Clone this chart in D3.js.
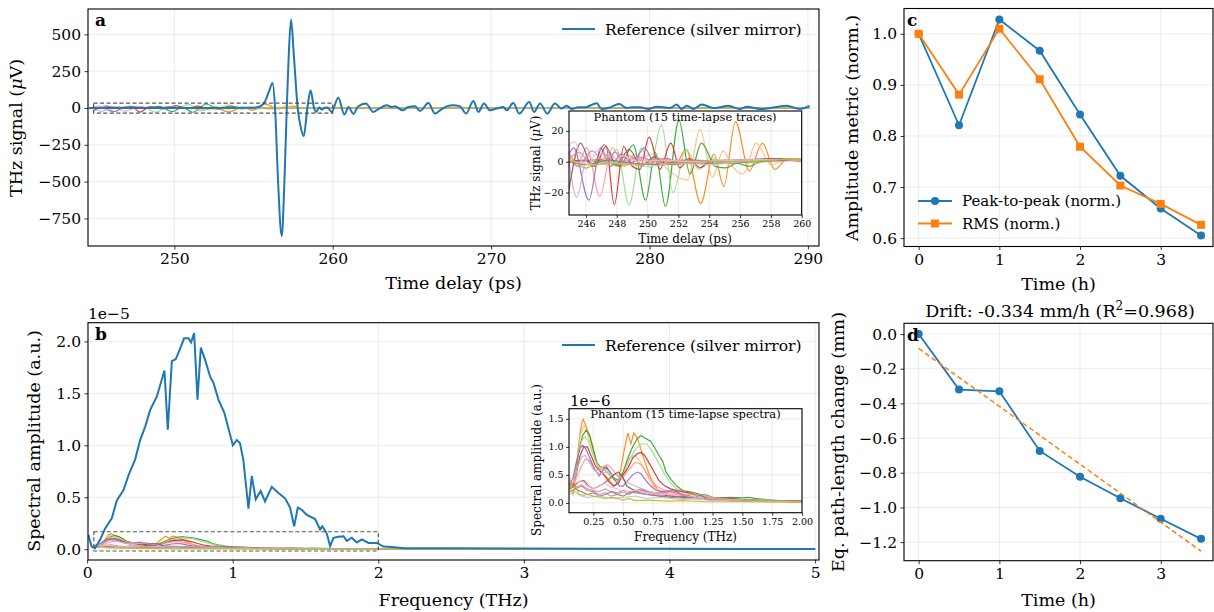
<!DOCTYPE html>
<html><head><meta charset="utf-8">
<script src="https://cdn.jsdelivr.net/npm/d3@7"></script>
<style>body{margin:0;background:#fff} text{font-family:"DejaVu Serif",serif;fill:#000}</style>
</head><body><svg id="c" width="1214" height="612"></svg>
<script>
// ---------------- DATA ----------------
// Panel a: reference time trace (ps, µV)
const refTime = [244.6,246,248,250,252,254,255,255.4,255.75,256.0,256.2,256.36,256.55,256.78,256.95,257.1,257.22,257.37,257.55,257.79,258.0,258.17,258.4,258.6,258.82,258.95,259.16,259.3,259.5,259.67,259.93,260.35,260.74,261.0,261.3,261.6,262.1,262.56,262.94,263.41,263.72,263.93,264.42,264.77,265.2,265.51,266.04,266.46,266.77,267.2,267.61,268.04,268.42,268.88,269.2,269.55,269.93,270.35,270.77,270.98,271.4,271.78,272.41,272.71,273.09,273.55,274.03,274.46,274.77,275.09,275.51,275.93,276.67,276.98,277.4,278.09,278.56,278.88,279.4,279.93,280.45,281.3,281.72,282.03,282.35,282.77,283.3,284.03,284.45,284.97,285.71,286.14,286.98,287.92,288.66,289.5,290.1];
const refSignal = [0,0,0,0,0,1,2,10,50,120,170,0,-500,-870,-500,0,350,600,350,0,-140,-190,0,120,0,-27,5,-11,2,3,-27,70,-45,7,-40,10,30,-27,-4,18,7,11,-16,7,11,-20,34,-38,-16,11,18,11,-38,48,-27,30,-16,-4,7,-16,34,-38,41,-27,30,-38,30,-4,16,-7,5,5,32,-7,0,27,0,5,5,-7,9,0,23,-7,16,-7,23,0,5,16,-7,9,-7,5,16,-7,14];

// Phantom time traces (15), [ps, µV]
const trOrange = [[244.9,0],[246.5,1],[247.5,2],[248.3,-3],[249,2],[250,0],[251,2],[251.8,-2],[252.5,8],[253.45,-27],[254.3,5],[254.95,-16],[255.7,26],[256.6,-6],[257.45,12],[258.25,-5],[259,1],[260,0],[270,0.5],[290.1,0]];
const trLightOrange = [[244.9,1],[248,0],[249.5,2],[250.4,5],[251.2,-4],[252.6,-12],[253.4,21],[254.2,-10],[254.9,7],[255.5,-3],[256.2,-8],[257.05,12],[258,-2],[259,1],[260,1],[270,0.5],[290.1,0]];
const trGreen = [[244.9,0],[247,1],[248.2,-3],[249.07,11],[249.87,-25],[250.5,6],[251.16,-29],[252.03,27],[252.75,-8],[253.5,12],[254.4,-3],[255.1,-4],[255.8,-1],[256.6,-3],[257.3,0],[258.5,1],[260,1.5],[270,0.5],[290.1,0]];
const trLightGreen = [[244.9,0],[246.5,1],[247.3,-2],[248.0,8],[248.8,-28],[249.6,9],[250.15,-4],[250.9,24],[251.65,-20],[252.5,8],[253.3,-5],[254.1,3],[255,-1],[256,1],[257,-1],[258.5,2],[260,1.5],[270,0.5],[290.1,0]];
const trRed = [[244.9,0],[246,1],[246.6,-3],[247.3,10],[247.84,-28],[248.45,10],[249.0,-3],[249.5,-5],[250.1,16],[250.8,-5],[251.5,12],[252.1,-4],[252.7,2],[253.4,-4],[254.2,1],[255,0],[256,1],[258,1],[260,1],[270,0.5],[290.1,0]];
const trLightRed = [[244.9,3],[245.4,-3],[246.05,9],[246.9,-22.5],[247.7,9],[248.5,-3],[249.2,5],[250,-1],[250.8,2],[251.6,-2],[252.5,1],[253.5,0],[255,1],[257,0],[260,1],[270,0.5],[290.1,0]];
const trPurple = [[244.9,5],[245.2,9],[246.19,-25],[246.95,9],[247.6,-3],[248.3,5],[249,-1],[249.8,9],[250.5,-2],[251.3,2],[252,-1],[253,1],[255,0],[257,1],[260,2],[270,0.5],[290.1,0]];
const trLightPurple = [[244.9,0],[245.4,-23],[246.1,4],[246.8,-2],[247.5,6],[248.2,-1],[249,3],[250,0],[251,1],[253,0],[256,1],[260,1],[270,0.5],[290.1,0]];
const trBrown = [[244.9,-18],[245.65,12],[246.4,-3],[247.2,11],[248.0,-2],[248.8,8],[249.6,-3],[250.4,3],[251.2,-1],[252.5,1],[254,0],[256,1],[258,2],[260,2],[270,0.5],[290.1,0]];
const trLightBrown = [[244.9,2],[245.6,6],[246.3,-2],[247.1,5],[247.9,-1],[248.8,4],[249.7,-2],[250.6,2],[252,0],[255,1],[260,1.5],[270,0.5],[290.1,0]];
const trPink = [[244.9,6],[245.5,-3],[246.4,7],[247.2,-1],[247.9,6],[248.7,-2],[249.5,3],[250.5,0],[252,1],[255,0],[258,1],[260,2],[270,0.5],[290.1,0]];
const trLightPink = [[244.9,10],[245.25,13],[246.0,-5],[246.8,8],[247.6,-2],[248.4,4],[249.4,0],[251,1],[253,0],[256,1],[260,1.5],[270,0.5],[290.1,0]];
const trGray = [[244.9,0],[246,-2],[247.5,1],[249,-1],[251,-2],[253,-1],[255,-1],[257,0],[259,1],[260,2],[270,0.5],[290.1,0]];
const trLightGray = [[244.9,1],[246.5,-2],[248,-1],[250,-3],[252,-1],[254,-2],[256,0],[258,1],[260,2],[270,0.5],[290.1,0]];
const trOlive = [[244.9,4],[245.4,-1],[246.0,-4],[246.6,-2],[247.5,-1],[249,-2],[250.5,-1],[252,-1],[254,0],[256,0],[258,1],[260,2],[270,1],[290.1,1]];

// Panel b: reference spectrum [THz, amplitude in 1e-6 a.u.]
const refSpectrum = [[0.008,1.4],[0.031,0.25],[0.054,0.1],[0.089,0.9],[0.124,2.0],[0.17,3.0],[0.204,4.7],[0.25,5.7],[0.284,7.1],[0.33,8.65],[0.364,10.5],[0.399,11.8],[0.433,13.4],[0.479,14.7],[0.531,17.2],[0.554,11.5],[0.582,18.1],[0.609,18.3],[0.639,19.3],[0.666,20.3],[0.696,20.3],[0.714,19.9],[0.735,20.8],[0.758,14.4],[0.781,19.4],[0.811,18.2],[0.845,16.6],[0.868,16.0],[0.902,14.4],[0.943,13.1],[1.001,10.0],[1.028,10.5],[1.05,10.2],[1.073,8.6],[1.108,3.9],[1.131,7.05],[1.158,4.8],[1.192,5.6],[1.222,4.6],[1.268,6.0],[1.314,5.4],[1.36,4.9],[1.394,4.0],[1.422,2.2],[1.447,4.0],[1.474,3.8],[1.509,3.3],[1.566,2.9],[1.6,1.9],[1.616,2.2],[1.646,1.5],[1.669,0.3],[1.692,1.1],[1.726,1.2],[1.761,1.25],[1.784,0.8],[1.818,1.1],[1.853,0.65],[1.887,0.95],[1.933,0.6],[1.99,0.6],[2.036,0.25],[2.093,0.2],[2.18,0.1],[2.5,0.08],[3,0.06],[3.5,0.05],[4,0.04],[4.5,0.03],[5,0.03]];

// Phantom spectra (15) [THz, amplitude in 1e-6 a.u.]
const spOrange = [[0.05,0.38],[0.07,0.3],[0.09,0.28],[0.11,0.6],[0.13,1.1],[0.15,1.4],[0.165,1.49],[0.18,1.42],[0.2,1.3],[0.22,1.2],[0.25,0.95],[0.28,0.7],[0.31,0.55],[0.34,0.5],[0.38,0.42],[0.42,0.3],[0.45,0.35],[0.48,0.6],[0.51,0.95],[0.54,1.25],[0.565,1.05],[0.59,1.25],[0.62,1.15],[0.65,0.95],[0.68,0.75],[0.72,0.5],[0.76,0.32],[0.8,0.22],[0.85,0.18],[0.9,0.14],[0.95,0.15],[1.0,0.12],[1.05,0.13],[1.1,0.1],[1.2,0.08],[1.3,0.06],[1.4,0.05],[1.5,0.06],[1.6,0.04],[1.8,0.03],[2.0,0.02],[2.5,0.02],[3.5,0.01],[5,0.01]];
const spLightOrange = [[0.05,0.3],[0.08,0.35],[0.11,0.7],[0.14,1.2],[0.17,1.38],[0.2,1.25],[0.23,1.0],[0.27,0.72],[0.31,0.6],[0.35,0.62],[0.4,0.45],[0.45,0.4],[0.5,0.55],[0.55,0.8],[0.6,0.85],[0.64,0.75],[0.7,0.5],[0.75,0.3],[0.8,0.22],[0.9,0.18],[1.0,0.14],[1.1,0.1],[1.2,0.08],[1.4,0.05],[1.6,0.04],[2.0,0.02],[3,0.01],[5,0.01]];
const spGreen = [[0.05,0.3],[0.08,0.35],[0.1,0.5],[0.13,0.95],[0.16,1.2],[0.19,1.3],[0.22,1.2],[0.25,0.95],[0.28,0.72],[0.31,0.64],[0.35,0.63],[0.38,0.58],[0.42,0.45],[0.46,0.4],[0.5,0.55],[0.54,0.8],[0.58,1.0],[0.62,1.15],[0.65,1.2],[0.69,1.15],[0.73,1.1],[0.76,1.0],[0.8,0.85],[0.83,0.75],[0.86,0.55],[0.9,0.42],[0.95,0.3],[1.0,0.22],[1.05,0.2],[1.1,0.18],[1.15,0.15],[1.2,0.14],[1.25,0.1],[1.3,0.09],[1.4,0.1],[1.5,0.09],[1.55,0.1],[1.6,0.08],[1.7,0.06],[1.8,0.04],[1.9,0.03],[2.0,0.03],[2.5,0.02],[3.5,0.01],[5,0.01]];
const spLightGreen = [[0.05,0.3],[0.09,0.4],[0.12,0.85],[0.15,1.1],[0.18,1.18],[0.21,1.1],[0.25,0.85],[0.3,0.6],[0.35,0.58],[0.4,0.45],[0.45,0.38],[0.5,0.5],[0.55,0.75],[0.6,0.95],[0.65,1.05],[0.7,1.05],[0.75,0.9],[0.8,0.7],[0.85,0.5],[0.9,0.35],[0.95,0.25],[1.0,0.2],[1.1,0.15],[1.2,0.12],[1.3,0.08],[1.5,0.07],[1.7,0.05],[2.0,0.03],[3,0.01],[5,0.01]];
const spRed = [[0.05,0.35],[0.08,0.3],[0.11,0.55],[0.14,0.85],[0.17,1.0],[0.2,1.0],[0.23,0.85],[0.27,0.65],[0.3,0.58],[0.34,0.5],[0.38,0.38],[0.42,0.3],[0.46,0.35],[0.5,0.5],[0.54,0.62],[0.58,0.8],[0.62,0.88],[0.65,0.9],[0.68,0.85],[0.72,0.7],[0.76,0.55],[0.8,0.4],[0.85,0.3],[0.9,0.25],[0.95,0.22],[1.0,0.2],[1.05,0.18],[1.1,0.15],[1.2,0.1],[1.3,0.08],[1.4,0.08],[1.5,0.06],[1.7,0.04],[2.0,0.03],[3,0.01],[5,0.01]];
const spLightRed = [[0.05,0.4],[0.1,0.4],[0.14,0.6],[0.18,0.78],[0.22,0.75],[0.26,0.6],[0.3,0.58],[0.34,0.66],[0.37,0.68],[0.41,0.6],[0.45,0.48],[0.5,0.45],[0.55,0.6],[0.6,0.72],[0.64,0.7],[0.68,0.6],[0.72,0.45],[0.78,0.3],[0.85,0.22],[0.95,0.18],[1.05,0.15],[1.15,0.12],[1.3,0.08],[1.5,0.05],[1.7,0.04],[2.0,0.02],[3,0.01],[5,0.01]];
const spPurple = [[0.05,0.3],[0.08,0.45],[0.11,0.75],[0.14,0.98],[0.16,1.03],[0.19,0.95],[0.22,0.8],[0.26,0.6],[0.3,0.48],[0.33,0.58],[0.36,0.65],[0.39,0.55],[0.43,0.4],[0.47,0.3],[0.5,0.3],[0.54,0.4],[0.58,0.5],[0.62,0.55],[0.65,0.52],[0.69,0.4],[0.73,0.3],[0.78,0.22],[0.83,0.2],[0.9,0.22],[0.95,0.2],[1.0,0.15],[1.05,0.12],[1.1,0.1],[1.2,0.08],[1.3,0.06],[1.5,0.04],[1.8,0.03],[2.0,0.02],[3,0.01],[5,0.01]];
const spLightPurple = [[0.05,0.25],[0.09,0.4],[0.12,0.65],[0.15,0.82],[0.18,0.85],[0.21,0.75],[0.25,0.6],[0.3,0.52],[0.35,0.55],[0.4,0.5],[0.45,0.5],[0.5,0.42],[0.55,0.35],[0.6,0.3],[0.66,0.25],[0.72,0.2],[0.8,0.18],[0.9,0.15],[1.0,0.12],[1.1,0.1],[1.3,0.06],[1.6,0.04],[2.0,0.02],[3,0.01],[5,0.01]];
const spBrown = [[0.05,0.25],[0.09,0.3],[0.13,0.38],[0.17,0.4],[0.21,0.3],[0.25,0.25],[0.3,0.3],[0.34,0.35],[0.38,0.42],[0.42,0.5],[0.46,0.55],[0.5,0.45],[0.53,0.3],[0.57,0.25],[0.62,0.2],[0.67,0.22],[0.72,0.18],[0.8,0.15],[0.9,0.12],[1.0,0.1],[1.1,0.08],[1.3,0.06],[1.5,0.04],[2.0,0.02],[3,0.01],[5,0.01]];
const spLightBrown = [[0.05,0.35],[0.1,0.28],[0.15,0.32],[0.2,0.25],[0.25,0.22],[0.3,0.2],[0.35,0.25],[0.4,0.2],[0.45,0.18],[0.5,0.22],[0.6,0.18],[0.7,0.15],[0.8,0.13],[0.9,0.1],[1.0,0.08],[1.2,0.06],[1.5,0.04],[2.0,0.02],[3,0.01],[5,0.01]];
const spPink = [[0.05,0.3],[0.1,0.25],[0.15,0.3],[0.2,0.22],[0.25,0.2],[0.3,0.15],[0.35,0.18],[0.4,0.12],[0.45,0.15],[0.5,0.2],[0.55,0.15],[0.6,0.22],[0.65,0.25],[0.7,0.2],[0.75,0.15],[0.8,0.18],[0.9,0.2],[1.0,0.15],[1.05,0.12],[1.1,0.1],[1.2,0.06],[1.4,0.04],[2.0,0.02],[3,0.01],[5,0.01]];
const spLightPink = [[0.05,0.45],[0.1,0.35],[0.15,0.4],[0.2,0.3],[0.25,0.25],[0.3,0.3],[0.35,0.35],[0.4,0.28],[0.45,0.25],[0.5,0.2],[0.6,0.22],[0.7,0.18],[0.8,0.15],[0.9,0.15],[1.0,0.12],[1.1,0.1],[1.3,0.06],[1.6,0.04],[2.0,0.02],[3,0.01],[5,0.01]];
const spGray = [[0.05,0.2],[0.1,0.25],[0.15,0.2],[0.2,0.15],[0.25,0.18],[0.3,0.12],[0.35,0.15],[0.4,0.2],[0.45,0.15],[0.5,0.12],[0.55,0.18],[0.6,0.2],[0.7,0.15],[0.8,0.12],[0.9,0.1],[1.0,0.12],[1.1,0.08],[1.15,0.15],[1.2,0.06],[1.4,0.04],[2.0,0.02],[3,0.01],[5,0.01]];
const spLightGray = [[0.05,0.15],[0.1,0.2],[0.15,0.12],[0.2,0.1],[0.3,0.12],[0.4,0.08],[0.5,0.1],[0.6,0.12],[0.7,0.08],[0.8,0.1],[0.9,0.08],[1.0,0.06],[1.1,0.08],[1.2,0.05],[1.5,0.03],[2.0,0.02],[3,0.01],[5,0.01]];
const spOlive = [[0.05,0.35],[0.08,0.15],[0.1,0.3],[0.13,0.15],[0.17,0.14],[0.2,0.15],[0.25,0.12],[0.3,0.1],[0.35,0.08],[0.4,0.1],[0.45,0.08],[0.5,0.05],[0.55,0.08],[0.6,0.04],[0.7,0.05],[0.8,0.04],[0.9,0.03],[1.0,0.04],[1.2,0.02],[1.5,0.02],[2.0,0.01],[3,0.005],[5,0.005]];

const phantomColors = ["#ff7f0e","#ffbb78","#2ca02c","#98df8a","#d62728","#ff9896","#9467bd","#c5b0d5","#8c564b","#c49c94","#e377c2","#f7b6d2","#7f7f7f","#c7c7c7","#bcbd22"];
const phantomTraces = [trOrange,trLightOrange,trGreen,trLightGreen,trRed,trLightRed,trPurple,trLightPurple,trBrown,trLightBrown,trPink,trLightPink,trGray,trLightGray,trOlive];
const phantomSpectra = [spOrange,spLightOrange,spGreen,spLightGreen,spRed,spLightRed,spPurple,spLightPurple,spBrown,spLightBrown,spPink,spLightPink,spGray,spLightGray,spOlive];

// Panels c, d
const timeHours = [0,0.5,1,1.5,2,2.5,3,3.5];
const peakToPeak = [1.0,0.821,1.028,0.967,0.842,0.722,0.658,0.605];
const rmsNorm = [1.0,0.881,1.01,0.911,0.779,0.703,0.667,0.626];
const pathChange = [0,-0.32,-0.33,-0.674,-0.823,-0.947,-1.065,-1.181];
const driftSlope = -0.334, driftIntercept = -0.083, driftR2 = 0.968;

// Tick labels
const ticksA_x = [250,260,270,280,290], ticksA_y = [-750,-500,-250,0,250,500];
const ticksB_x = [0,1,2,3,4,5], ticksB_y = [0,5,10,15,20];
const ticksIA_x = [246,248,250,252,254,256,258,260], ticksIA_y = [-20,0,20];
const ticksIB_x = [0.25,0.5,0.75,1.0,1.25,1.5,1.75,2.0], ticksIB_y = [0,0.5,1.0,1.5];
const ticksC_x = [0,1,2,3], ticksC_y = [0.6,0.7,0.8,0.9,1.0];
const ticksD_x = [0,1,2,3], ticksD_y = [0,-0.2,-0.4,-0.6,-0.8,-1.0,-1.2];

// ---------------- DRAWING ----------------
const svg = d3.select("#c");
const BLUE = "#1f77b4", ORANGE = "#ff7f0e";
const TICK = 15.5, LAB = 17.5;
let clipId = 0;
const minus = s => s.replace(/-/g, "\u2212");

function makeAxes(o) {
  const g = svg.append("g");
  const xs = d3.scaleLinear().domain(o.xd).range([o.x0, o.x1]);
  const ys = d3.scaleLinear().domain(o.yd).range([o.y1, o.y0]);
  if (o.bg) g.append("rect").attr("x", o.x0).attr("y", o.y0).attr("width", o.x1 - o.x0).attr("height", o.y1 - o.y0).attr("fill", "#fff");
  const grid = g.append("g").attr("stroke", "#b0b0b0").attr("stroke-opacity", 0.3).attr("stroke-width", 0.8);
  grid.selectAll(null).data(o.xt).join("line").attr("x1", d => xs(d)).attr("x2", d => xs(d)).attr("y1", o.y0).attr("y2", o.y1);
  grid.selectAll(null).data(o.yt).join("line").attr("y1", d => ys(d)).attr("y2", d => ys(d)).attr("x1", o.x0).attr("x2", o.x1);
  const id = "clip" + (clipId++);
  svg.append("clipPath").attr("id", id).append("rect").attr("x", o.x0).attr("y", o.y0).attr("width", o.x1 - o.x0).attr("height", o.y1 - o.y0);
  const plot = g.append("g").attr("clip-path", `url(#${id})`);
  const fs = o.fs || TICK;
  const ax = g.append("g").attr("transform", `translate(0,${o.y1})`)
    .call(d3.axisBottom(xs).tickValues(o.xt).tickFormat(o.xf).tickSizeOuter(0).tickSize(o.tl || 3.5).tickPadding(o.tp || 3.5));
  const ay = g.append("g").attr("transform", `translate(${o.x0},0)`)
    .call(d3.axisLeft(ys).tickValues(o.yt).tickFormat(o.yf).tickSizeOuter(0).tickSize(o.tl || 3.5).tickPadding(o.tp || 3.5));
  [ax, ay].forEach(a => {
    a.select(".domain").remove();
    a.selectAll("line").attr("stroke", "#000").attr("stroke-width", 0.8);
    a.selectAll("text").attr("font-family", "DejaVu Serif").attr("font-size", fs).attr("fill", "#000");
  });
  g.append("rect").attr("x", o.x0).attr("y", o.y0).attr("width", o.x1 - o.x0).attr("height", o.y1 - o.y0)
    .attr("fill", "none").attr("stroke", "#000").attr("stroke-width", o.sw || 1.1);
  return {g, xs, ys, plot};
}
function text(x, y, s, opt = {}) {
  const t = svg.append("text").attr("x", x).attr("y", y).text(s)
    .attr("font-size", opt.fs || LAB).attr("text-anchor", opt.anchor || "middle");
  if (opt.bold) t.attr("font-weight", "bold");
  if (opt.rot) t.attr("transform", `rotate(-90,${x},${y})`);
  return t;
}

// ----- Panel a -----
const A = makeAxes({x0: 88, x1: 819, y0: 9, y1: 246, xd: [244.55, 290.7], yd: [-937, 672],
  xt: ticksA_x, yt: ticksA_y, xf: d => d, yf: d => minus(String(d))});
const lineA = d3.line().x(d => A.xs(d[0])).y(d => A.ys(d[1])).curve(d3.curveMonotoneX);
phantomTraces.forEach((tr, i) => A.plot.append("path").attr("d", lineA(tr)).attr("fill", "none")
  .attr("stroke", phantomColors[i]).attr("stroke-width", 1.2).attr("opacity", 0.9));
A.plot.append("path").attr("d", lineA(refTime.map((t, i) => [t, refSignal[i]]))).attr("fill", "none")
  .attr("stroke", BLUE).attr("stroke-width", 2);

// ----- Panel a inset -----
const IA = makeAxes({x0: 569, x1: 801.7, y0: 111, y1: 215, xd: [244.9, 260], yd: [-34.6, 32.9], bg: true,
  xt: ticksIA_x, yt: ticksIA_y, xf: d => d, yf: d => minus(String(d)), fs: 9.5, tl: 3, tp: 2.5, sw: 1.1});
const lineIA = d3.line().x(d => IA.xs(d[0])).y(d => IA.ys(d[1])).curve(d3.curveMonotoneX);
phantomTraces.forEach((tr, i) => IA.plot.append("path").attr("d", lineIA(tr)).attr("fill", "none")
  .attr("stroke", phantomColors[i]).attr("stroke-width", 1.2).attr("opacity", 0.9));
svg.append("rect").attr("x", A.xs(244.9)).attr("y", A.ys(32.9)).attr("width", A.xs(260) - A.xs(244.9))
  .attr("height", A.ys(-34.6) - A.ys(32.9)).attr("fill", "none").attr("stroke", "#444").attr("stroke-opacity", 0.9)
  .attr("stroke-width", 1.2).attr("stroke-dasharray", "4,2.5");
text(685, 121, "Phantom (15 time-lapse traces)", {fs: 11.5});
text(685, 243, "Time delay (ps)", {fs: 12});
{ const t = text(540, 163, "", {fs: 12, rot: true});
  t.append("tspan").text("THz signal (");
  t.append("tspan").text("\u03bc").attr("font-style", "italic");
  t.append("tspan").text("V)"); }

svg.append("line").attr("x1", 562).attr("x2", 595).attr("y1", 29).attr("y2", 29).attr("stroke", BLUE).attr("stroke-width", 2);
text(605, 34.5, "Reference (silver mirror)", {fs: 15.5, anchor: "start"});
text(95, 26, "a", {fs: 17, bold: true, anchor: "start"});
{ const t = text(22, 128, "", {rot: true});
  t.append("tspan").text("THz signal (");
  t.append("tspan").text("\u03bc").attr("font-style", "italic");
  t.append("tspan").text("V)"); }
text(453.5, 289, "Time delay (ps)");

// ----- Panel b -----
const B = makeAxes({x0: 88, x1: 819, y0: 322.7, y1: 560, xd: [0.006, 5.027], yd: [-1.04, 21.8],
  xt: ticksB_x, yt: ticksB_y, xf: d => d, yf: d => d3.format(".1f")(d / 10)});
const lineB = d3.line().x(d => B.xs(d[0])).y(d => B.ys(d[1]));
phantomSpectra.forEach((sp, i) => B.plot.append("path").attr("d", lineB(sp)).attr("fill", "none")
  .attr("stroke", phantomColors[i]).attr("stroke-width", 1.2).attr("opacity", 0.9));
B.plot.append("path").attr("d", lineB(refSpectrum)).attr("fill", "none").attr("stroke", BLUE).attr("stroke-width", 2);

// ----- Panel b inset -----
const IB = makeAxes({x0: 569, x1: 802, y0: 408.7, y1: 512.7, xd: [0.046, 2.0], yd: [-0.175, 1.68], bg: true,
  xt: ticksIB_x, yt: ticksIB_y, xf: d3.format(".2f"), yf: d3.format(".1f"), fs: 9.5, tl: 3, tp: 2.5, sw: 1.1});
const lineIB = d3.line().x(d => IB.xs(d[0])).y(d => IB.ys(d[1]));
phantomSpectra.forEach((sp, i) => IB.plot.append("path").attr("d", lineIB(sp)).attr("fill", "none")
  .attr("stroke", phantomColors[i]).attr("stroke-width", 1.2).attr("opacity", 0.9));
svg.append("rect").attr("x", B.xs(0.046)).attr("y", B.ys(1.68)).attr("width", B.xs(2.0) - B.xs(0.046))
  .attr("height", B.ys(-0.175) - B.ys(1.68)).attr("fill", "none").attr("stroke", "#444").attr("stroke-opacity", 0.9)
  .attr("stroke-width", 1.2).attr("stroke-dasharray", "4,2.5");
text(685.5, 418, "Phantom (15 time-lapse spectra)", {fs: 11.5});
text(685.5, 541, "Frequency (THz)", {fs: 12});
text(541, 460, "Spectral amplitude (a.u.)", {fs: 12, rot: true});
text(570, 406, "1e\u22126", {fs: 15, anchor: "start"});

svg.append("line").attr("x1", 562).attr("x2", 595).attr("y1", 345).attr("y2", 345).attr("stroke", BLUE).attr("stroke-width", 2);
text(605, 350.5, "Reference (silver mirror)", {fs: 15.5, anchor: "start"});
text(95, 340, "b", {fs: 17, bold: true, anchor: "start"});
text(88, 319, "1e\u22125", {fs: 15.5, anchor: "start"});
text(40, 441, "Spectral amplitude (a.u.)", {rot: true});
text(453.5, 606, "Frequency (THz)");

// ----- Panel c -----
const C = makeAxes({x0: 904, x1: 1213, y0: 8.5, y1: 246.5, xd: [-0.182, 3.648], yd: [0.5836, 1.0496],
  xt: ticksC_x, yt: ticksC_y, xf: d => d, yf: d3.format(".1f")});
const lineC = d3.line().x((d, i) => C.xs(timeHours[i])).y(d => C.ys(d));
C.plot.append("path").attr("d", lineC(peakToPeak)).attr("fill", "none").attr("stroke", BLUE).attr("stroke-width", 1.8);
C.plot.selectAll(null).data(peakToPeak).join("circle").attr("cx", (d, i) => C.xs(timeHours[i])).attr("cy", d => C.ys(d)).attr("r", 4).attr("fill", BLUE);
C.plot.append("path").attr("d", lineC(rmsNorm)).attr("fill", "none").attr("stroke", ORANGE).attr("stroke-width", 1.8);
C.plot.selectAll(null).data(rmsNorm).join("rect").attr("x", (d, i) => C.xs(timeHours[i]) - 4).attr("y", d => C.ys(d) - 4).attr("width", 8).attr("height", 8).attr("fill", ORANGE);
svg.append("line").attr("x1", 918).attr("x2", 952).attr("y1", 201).attr("y2", 201).attr("stroke", BLUE).attr("stroke-width", 1.8);
svg.append("circle").attr("cx", 935).attr("cy", 201).attr("r", 4).attr("fill", BLUE);
text(962, 206, "Peak-to-peak (norm.)", {fs: 15, anchor: "start"});
svg.append("line").attr("x1", 918).attr("x2", 952).attr("y1", 223.5).attr("y2", 223.5).attr("stroke", ORANGE).attr("stroke-width", 1.8);
svg.append("rect").attr("x", 931).attr("y", 219.5).attr("width", 8).attr("height", 8).attr("fill", ORANGE);
text(962, 228.5, "RMS (norm.)", {fs: 15, anchor: "start"});
text(907, 26, "c", {fs: 17, bold: true, anchor: "start"});
text(858, 128, "Amplitude metric (norm.)", {rot: true});
text(1058.5, 290, "Time (h)");

// ----- Panel d -----
const D = makeAxes({x0: 904, x1: 1213, y0: 323.3, y1: 560.7, xd: [-0.182, 3.648], yd: [-1.307, 0.062],
  xt: ticksD_x, yt: ticksD_y, xf: d => d, yf: d => minus(d3.format(".1f")(d))});
D.plot.append("path").attr("d", d3.line()(timeHours.map((t, i) => [D.xs(t), D.ys(pathChange[i])]))).attr("fill", "none").attr("stroke", BLUE).attr("stroke-width", 1.8);
D.plot.selectAll(null).data(pathChange).join("circle").attr("cx", (d, i) => D.xs(timeHours[i])).attr("cy", d => D.ys(d)).attr("r", 4).attr("fill", BLUE);
const tEnds = d3.extent(timeHours);
D.plot.append("path").attr("d", d3.line()(tEnds.map(t => [D.xs(t), D.ys(driftIntercept + driftSlope * t)])))
  .attr("fill", "none").attr("stroke", ORANGE).attr("stroke-width", 1.5).attr("stroke-dasharray", "5,3");
text(907, 341, "d", {fs: 17, bold: true, anchor: "start"});
{ const t = text(1060, 317, "", {fs: 17.5});
  t.append("tspan").text(`Drift: ${driftSlope.toFixed(3)} mm/h (R`);
  t.append("tspan").text("2").attr("font-size", 12).attr("dy", -7);
  t.append("tspan").text(`=${driftR2.toFixed(3)})`).attr("dy", 7); }
text(844, 442, "Eq. path-length change (mm)", {rot: true});
text(1058.5, 606, "Time (h)");
</script></body></html>
